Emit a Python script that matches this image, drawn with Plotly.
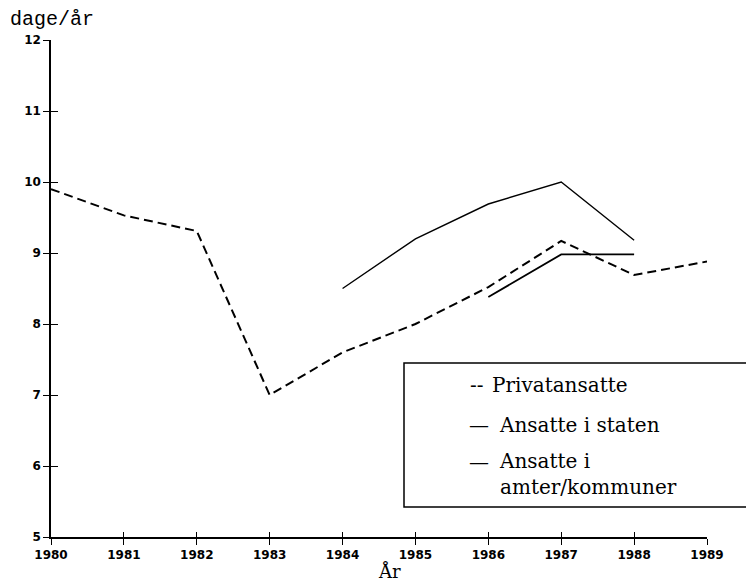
import plotly.graph_objects as go

years = [1980, 1981, 1982, 1983, 1984, 1985, 1986, 1987, 1988, 1989]
privat = [9.9, 9.53, 9.31, 7.0, 7.6, 8.0, 8.52, 9.17, 8.69, 8.88]
staten_years = [1984, 1985, 1986, 1987, 1988]
staten = [8.5, 9.2, 9.69, 10.0, 9.18]
kommuner_years = [1986, 1987, 1988]
kommuner = [8.38, 8.98, 8.98]
y_ticks = [5, 6, 7, 8, 9, 10, 11, 12]

# figure is placed at (8, 8) inside the page by the default body margin
W, H = 746, 575
L, R, T, B = 43, 47, 32, 46
PW, PH = W - L - R, H - T - B


def px(sx):
    return (sx - 8 - L) / PW


def py(sy):
    return (H - B - (sy - 8)) / PH


fig = go.Figure()
fig.add_trace(go.Scatter(x=years, y=privat, mode="lines", name="Privatansatte",
                         line=dict(color="black", width=2, dash="9px,5px")))
fig.add_trace(go.Scatter(x=staten_years, y=staten, mode="lines", name="Ansatte i staten",
                         line=dict(color="black", width=1.4)))
fig.add_trace(go.Scatter(x=kommuner_years, y=kommuner, mode="lines", name="Ansatte i amter/kommuner",
                         line=dict(color="black", width=1.8)))
# invisible trace for the overlay axes (inner halves of the crossing ticks)
fig.add_trace(go.Scatter(x=[1985], y=[8], xaxis="x2", yaxis="y2", showlegend=False,
                         mode="markers", marker=dict(opacity=0), hoverinfo="skip"))

tickfont = dict(family="DejaVu Sans", size=12, weight="bold", color="black")
fig.update_layout(
    width=W, height=H,
    margin=dict(l=L, r=R, t=T, b=B, autoexpand=False),
    paper_bgcolor="white", plot_bgcolor="white",
    showlegend=False,
    font=dict(family="DejaVu Serif", color="black"),
    xaxis=dict(range=[1980, 1989], tickvals=years, showgrid=False, zeroline=False,
               showline=True, linecolor="black", linewidth=1.8,
               ticks="outside", ticklen=6, tickwidth=1.3, tickcolor="black",
               tickfont=tickfont),
    yaxis=dict(range=[5, 12], tickvals=y_ticks, showgrid=False, zeroline=False,
               showline=True, linecolor="black", linewidth=1.5,
               ticks="outside", ticklen=6, tickwidth=1.3, tickcolor="black",
               tickfont=tickfont),
    xaxis2=dict(range=[1980, 1989], tickvals=years, overlaying="x", anchor="y2",
                side="bottom", showgrid=False, zeroline=False, showline=False,
                showticklabels=False,
                ticks="inside", ticklen=5, tickwidth=1.3, tickcolor="black"),
    yaxis2=dict(range=[5, 12], tickvals=y_ticks, overlaying="y", anchor="x2",
                side="left", showgrid=False, zeroline=False, showline=False,
                showticklabels=False,
                ticks="inside", ticklen=7, tickwidth=1.3, tickcolor="black"),
)

# axis titles
fig.add_annotation(text="dage/år", xref="paper", yref="paper", x=px(8), y=py(19),
                   xanchor="left", yanchor="middle", showarrow=False,
                   font=dict(family="Liberation Mono", size=20))
fig.add_annotation(text="År", xref="paper", yref="paper", x=px(389), y=py(571),
                   xanchor="center", yanchor="middle", showarrow=False,
                   font=dict(family="DejaVu Serif", size=18))

# legend box
fig.add_shape(type="rect", xref="paper", yref="paper",
              x0=px(404), x1=px(760), y0=py(507), y1=py(363),
              line=dict(color="black", width=1.5), fillcolor="white", layer="above")
legend_font = dict(family="DejaVu Serif", size=20)
legend_rows = [("--", 468, "Privatansatte", 490, 385),
               ("—", 467, "Ansatte i staten", 497, 425),
               ("—", 467, "Ansatte i<br>amter/kommuner", 497, 474)]
for sym, sx, txt, tx, sy in legend_rows:
    sym_y = sy if "<br>" not in txt else sy - 12
    fig.add_annotation(text=sym, xref="paper", yref="paper", x=px(sx), y=py(sym_y),
                       xanchor="left", yanchor="middle", showarrow=False, font=legend_font)
    fig.add_annotation(text=txt, xref="paper", yref="paper", x=px(tx), y=py(sy),
                       xanchor="left", yanchor="middle", align="left", showarrow=False,
                       font=legend_font)

fig.write_html("out.html")
